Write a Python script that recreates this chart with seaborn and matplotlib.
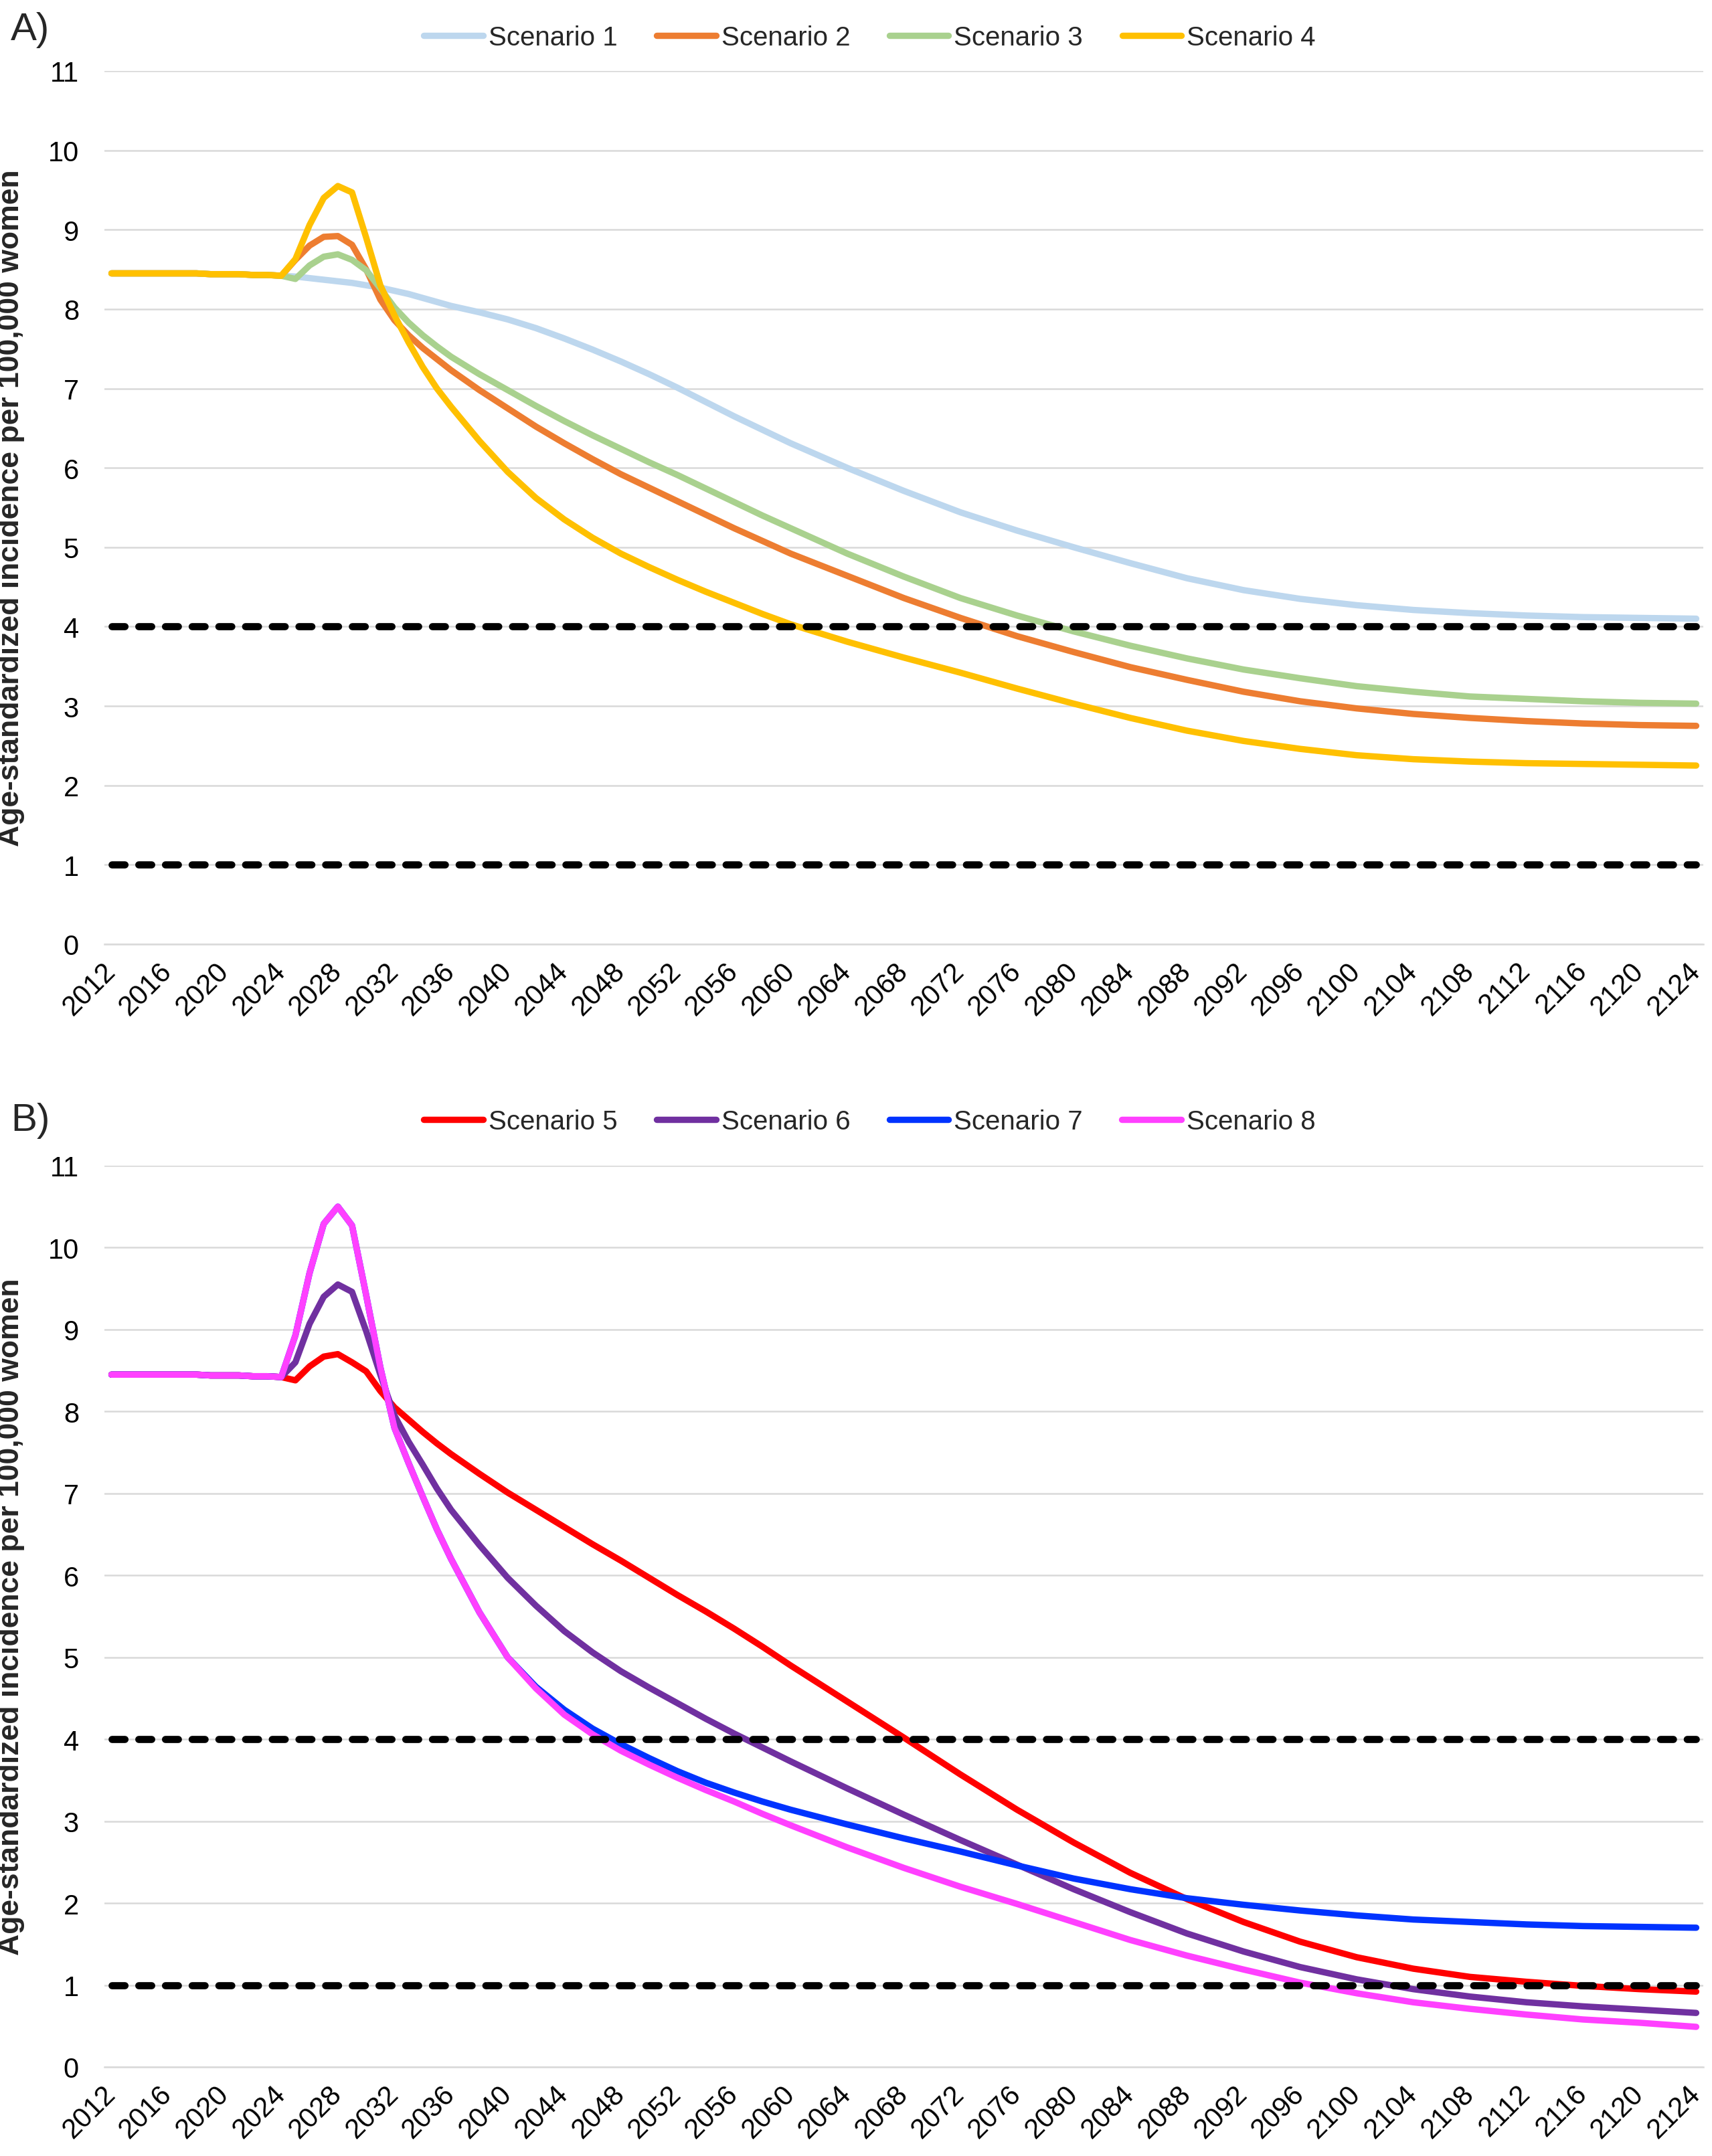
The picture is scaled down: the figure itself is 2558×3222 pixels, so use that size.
import numpy as np
import pandas as pd
import matplotlib
matplotlib.use("Agg")
import matplotlib.pyplot as plt
import seaborn as sns

# ---------------- data ----------------
years = (list(range(2012, 2037)) + list(range(2038, 2061, 2))
         + list(range(2064, 2125, 4)))

names_a = ["Scenario 1", "Scenario 2", "Scenario 3", "Scenario 4"]
names_b = ["Scenario 5", "Scenario 6", "Scenario 7", "Scenario 8"]

s1 = [8.45, 8.45, 8.45, 8.45, 8.45, 8.45, 8.45, 8.44, 8.44, 8.44, 8.43, 8.43, 8.42,
      8.41, 8.39, 8.37, 8.35, 8.33, 8.30, 8.27, 8.23, 8.19, 8.14, 8.09, 8.04,
      7.96, 7.87, 7.76, 7.63, 7.49, 7.34, 7.18, 7.01, 6.83, 6.65, 6.48, 6.31,
      6.00, 5.71, 5.44, 5.21, 5.00, 4.80, 4.61, 4.46, 4.35, 4.27, 4.21, 4.17,
      4.14, 4.12, 4.11, 4.10]
s2 = [8.45, 8.45, 8.45, 8.45, 8.45, 8.45, 8.45, 8.44, 8.44, 8.44, 8.43, 8.43, 8.42,
      8.62, 8.80, 8.91, 8.92, 8.81, 8.50, 8.12, 7.86, 7.67, 7.51, 7.37, 7.23,
      6.98, 6.75, 6.52, 6.31, 6.11, 5.92, 5.75, 5.58, 5.41, 5.24, 5.08, 4.92,
      4.64, 4.36, 4.11, 3.88, 3.68, 3.49, 3.33, 3.18, 3.06, 2.97, 2.90, 2.85,
      2.81, 2.78, 2.76, 2.75]
s3 = [8.45, 8.45, 8.45, 8.45, 8.45, 8.45, 8.45, 8.44, 8.44, 8.44, 8.43, 8.43, 8.42,
      8.38, 8.55, 8.66, 8.69, 8.62, 8.49, 8.26, 8.02, 7.83, 7.67, 7.53, 7.40,
      7.18, 6.98, 6.78, 6.59, 6.41, 6.24, 6.07, 5.91, 5.74, 5.57, 5.40, 5.24,
      4.92, 4.63, 4.36, 4.14, 3.94, 3.76, 3.60, 3.46, 3.35, 3.25, 3.18, 3.12,
      3.09, 3.06, 3.04, 3.03]
s4 = [8.45, 8.45, 8.45, 8.45, 8.45, 8.45, 8.45, 8.44, 8.44, 8.44, 8.43, 8.43, 8.42,
      8.63, 9.06, 9.40, 9.55, 9.47, 8.90, 8.30, 7.92, 7.58, 7.27, 7.00, 6.77,
      6.34, 5.95, 5.62, 5.35, 5.12, 4.92, 4.75, 4.59, 4.44, 4.30, 4.16, 4.03,
      3.81, 3.61, 3.42, 3.22, 3.03, 2.85, 2.69, 2.56, 2.46, 2.38, 2.33, 2.30,
      2.28, 2.27, 2.26, 2.25]
s5 = [8.45, 8.45, 8.45, 8.45, 8.45, 8.45, 8.45, 8.44, 8.44, 8.44, 8.43, 8.43, 8.42,
      8.38, 8.55, 8.67, 8.70, 8.60, 8.49, 8.25, 8.05, 7.90, 7.75, 7.61, 7.48,
      7.24, 7.01, 6.80, 6.59, 6.38, 6.18, 5.97, 5.76, 5.56, 5.35, 5.13, 4.90,
      4.46, 4.02, 3.57, 3.14, 2.74, 2.37, 2.05, 1.77, 1.53, 1.34, 1.20, 1.10,
      1.04, 0.99, 0.95, 0.92]
s6 = [8.45, 8.45, 8.45, 8.45, 8.45, 8.45, 8.45, 8.44, 8.44, 8.44, 8.43, 8.43, 8.42,
      8.60, 9.07, 9.40, 9.55, 9.46, 8.98, 8.45, 7.95, 7.63, 7.35, 7.06, 6.80,
      6.37, 5.97, 5.63, 5.32, 5.06, 4.83, 4.63, 4.44, 4.25, 4.07, 3.90, 3.73,
      3.40, 3.08, 2.77, 2.47, 2.17, 1.89, 1.63, 1.41, 1.22, 1.07, 0.95, 0.86,
      0.79, 0.74, 0.70, 0.66]
s7 = [8.45, 8.45, 8.45, 8.45, 8.45, 8.45, 8.45, 8.44, 8.44, 8.44, 8.43, 8.43, 8.42,
      8.93, 9.69, 10.29, 10.50, 10.27, 9.42, 8.54, 7.80, 7.37, 6.96, 6.56, 6.20,
      5.55, 5.00, 4.64, 4.36, 4.13, 3.94, 3.77, 3.61, 3.47, 3.35, 3.24, 3.14,
      2.96, 2.79, 2.63, 2.46, 2.30, 2.17, 2.06, 1.98, 1.91, 1.85, 1.80, 1.77,
      1.74, 1.72, 1.71, 1.70]
s8 = [8.45, 8.45, 8.45, 8.45, 8.45, 8.45, 8.45, 8.44, 8.44, 8.44, 8.43, 8.43, 8.42,
      8.93, 9.69, 10.29, 10.50, 10.27, 9.42, 8.54, 7.80, 7.37, 6.96, 6.56, 6.20,
      5.55, 5.00, 4.62, 4.30, 4.06, 3.86, 3.69, 3.53, 3.38, 3.24, 3.09, 2.95,
      2.68, 2.43, 2.20, 1.99, 1.77, 1.55, 1.36, 1.19, 1.03, 0.90, 0.79, 0.71,
      0.64, 0.58, 0.54, 0.49]

thresholds = [4, 1]
tick_years = list(range(2012, 2125, 4))
y_ticks = list(range(0, 12))

colors_a = ["#BDD7EE", "#ED7D31", "#A9D18E", "#FFC000"]
colors_b = ["#FF0000", "#7030A0", "#0033FF", "#FF40FF"]

# ---------------- style ----------------
sns.set_style("white")
plt.rcParams["font.family"] = ["Liberation Sans", "DejaVu Sans"]
plt.rcParams["lines.solid_capstyle"] = "round"
plt.rcParams["lines.solid_joinstyle"] = "round"

W, H = 2558, 3223
fig = plt.figure(figsize=(W / 200, H / 200), dpi=200)

GRID = "#D9D9D9"


def panel(rect, names, series, colors, letter, letter_base, legend_y):
    ax = fig.add_axes(rect)
    df = pd.DataFrame({
        "Year": np.tile(years, len(names)),
        "Value": np.concatenate([np.asarray(s, float) for s in series]),
        "Scenario": np.repeat(names, len(years)),
    })
    sns.lineplot(data=df, x="Year", y="Value", hue="Scenario", hue_order=names,
                 palette=dict(zip(names, colors)), linewidth=3.4,
                 estimator=None, sort=False, ax=ax)
    for t in thresholds:
        ax.plot([years[0], years[-1]], [t, t], color="black", lw=3.85,
                linestyle=(0, (1.8, 1.93)), dash_capstyle="round", zorder=5)

    ax.set_xlim(2011.5, 2124.5)
    ax.set_ylim(0, 11)
    ax.set_yticks(y_ticks)
    ax.set_xticks(tick_years)
    ax.set_xticklabels([str(y) for y in tick_years])
    ax.set_xticks(np.arange(2011.5, 2125, 2), minor=True)
    ax.grid(axis="y", color=GRID, lw=0.9)
    ax.grid(axis="x", visible=False)
    ax.set_axisbelow(True)
    for s in ["left", "right", "top"]:
        ax.spines[s].set_visible(False)
    ax.spines["bottom"].set_color(GRID)
    ax.spines["bottom"].set_linewidth(0.9)

    ax.tick_params(axis="x", which="major", length=0, labelsize=15, pad=12,
                   labelcolor="black")
    ax.tick_params(axis="x", which="minor", length=8.3, width=0.9,
                   color=GRID, direction="inout")
    ax.tick_params(axis="y", length=0, labelsize=15, pad=13.7,
                   labelcolor="black")
    for lbl in ax.get_xticklabels():
        lbl.set_rotation(45)
        lbl.set_ha("right")
        lbl.set_va("center")
        lbl.set_rotation_mode("anchor")

    ax.set_xlabel("")
    ax.set_ylabel("Age-standardized incidence per 100,000 women",
                  fontsize=16, fontweight="bold")
    ax.yaxis.set_label_coords(-0.0498, 0.5)

    sns.move_legend(ax, "center", bbox_to_anchor=(0.508, legend_y),
                    bbox_transform=fig.transFigure, ncol=4, frameon=False,
                    title=None, fontsize=14.5, handlelength=2.2,
                    handletextpad=0.2, columnspacing=1.45)

    fig.text(16 / W, 1 - letter_base / H, letter, fontsize=21,
             ha="left", va="baseline")
    return ax


panel([156 / W, 1 - 1412 / H, 2389 / W, 1305 / H], names_a,
      [s1, s2, s3, s4], colors_a, "A)", 60, 1 - 57 / H)
panel([156 / W, 1 - 3090 / H, 2389 / W, 1347 / H], names_b,
      [s5, s6, s7, s8], colors_b, "B)", 1690, 1 - 1677 / H)

fig.savefig("out.png", dpi=200)
